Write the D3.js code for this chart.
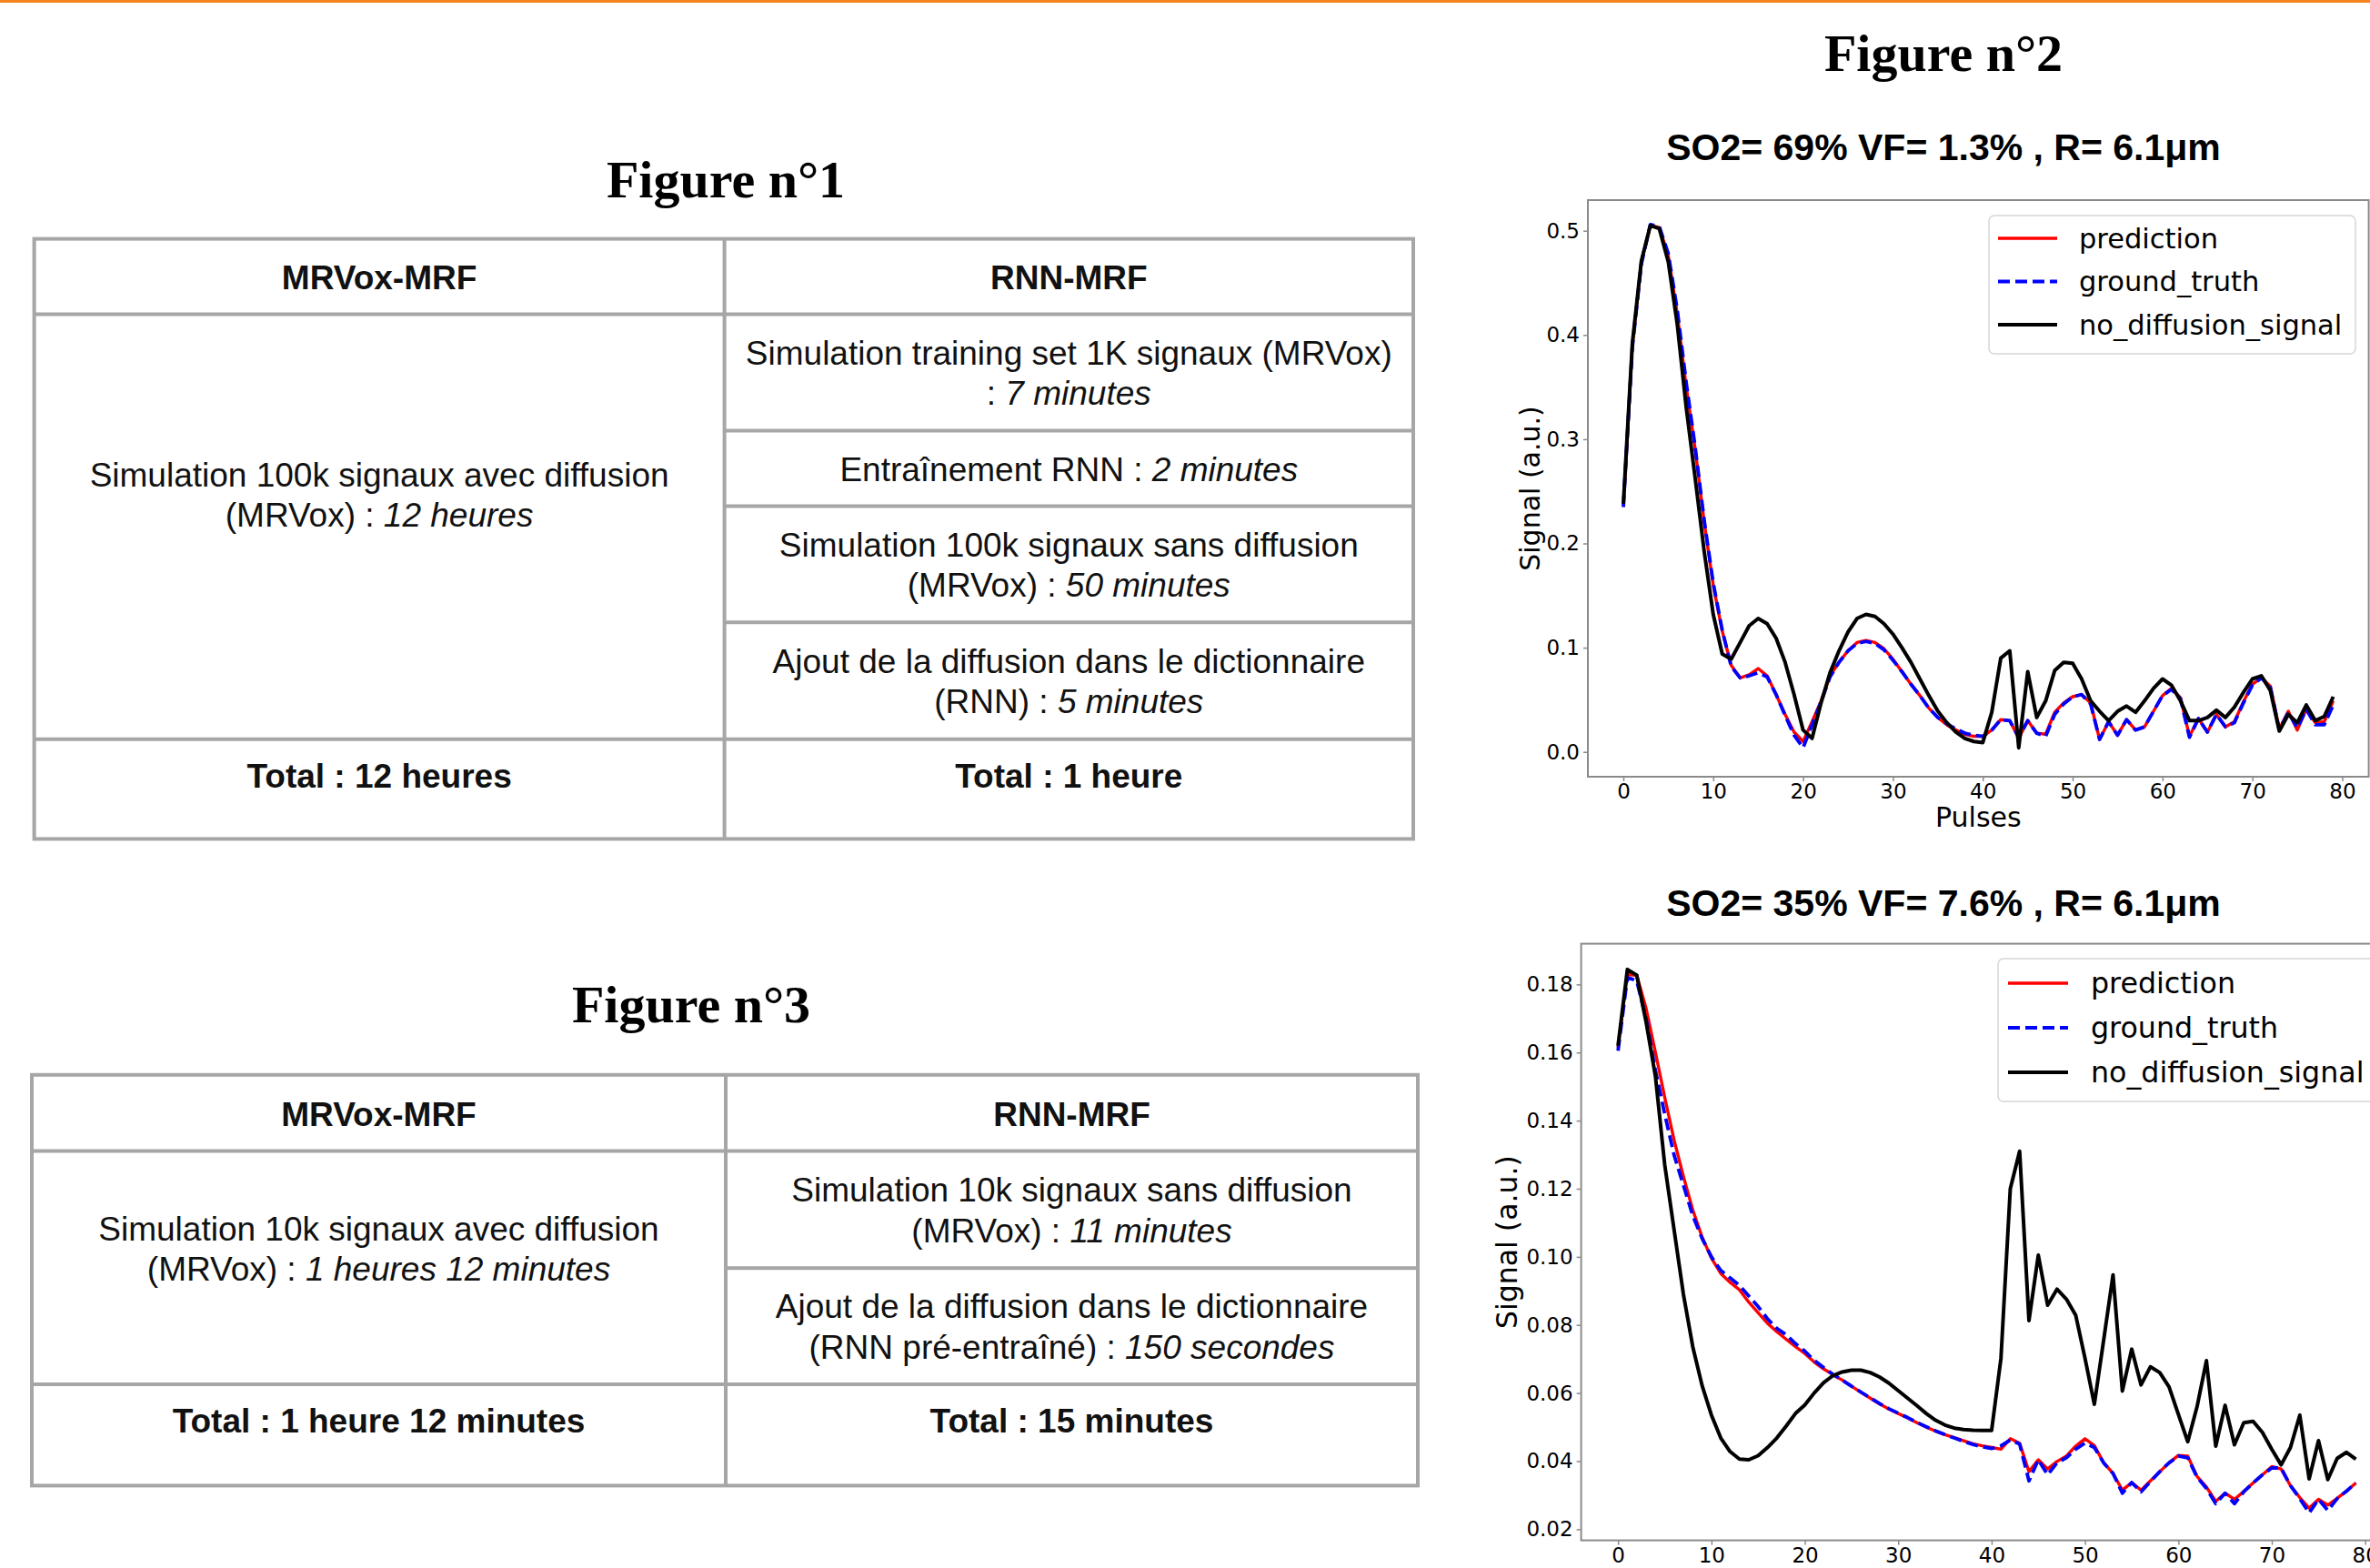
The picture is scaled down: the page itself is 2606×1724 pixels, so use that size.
<!DOCTYPE html>
<html>
<head>
<meta charset="utf-8">
<script src="https://cdn.jsdelivr.net/npm/d3@7"></script>
<style>
  body { margin: 0; background: #fff; overflow: hidden; }
  .tbl text { font-family: "Liberation Sans", Arial, sans-serif; font-size: 37px; fill: #111; }
  .fig-title { font-family: "Liberation Serif", "Times New Roman", serif; font-weight: bold; font-size: 58px; fill: #000; }
  .chart-title { font-family: "Liberation Sans", Arial, sans-serif; font-weight: bold; font-size: 41px; fill: #000; }
  .chart text { font-family: "DejaVu Sans", sans-serif; fill: #000; }
</style>
</head>
<body>
<svg id="page" width="2606" height="1724"></svg>
<script>
// ---------- table data ----------
// each line = [normal text, italic text]
const fig1Header = ["MRVox-MRF", "RNN-MRF"];
const fig1Left = [["Simulation 100k signaux avec diffusion", ""], ["(MRVox) : ", "12 heures"]];
const fig1Right = [
  [["Simulation training set 1K signaux (MRVox)", ""], [": ", "7 minutes"]],
  [["Entraînement RNN : ", "2 minutes"]],
  [["Simulation 100k signaux sans diffusion", ""], ["(MRVox) : ", "50 minutes"]],
  [["Ajout de la diffusion dans le dictionnaire", ""], ["(RNN) : ", "5 minutes"]]
];
const fig1Total = ["Total : 12 heures", "Total : 1 heure"];

const fig3Header = ["MRVox-MRF", "RNN-MRF"];
const fig3Left = [["Simulation 10k signaux avec diffusion", ""], ["(MRVox) : ", "1 heures 12 minutes"]];
const fig3Right = [
  [["Simulation 10k signaux sans diffusion", ""], ["(MRVox) : ", "11 minutes"]],
  [["Ajout de la diffusion dans le dictionnaire", ""], ["(RNN pré-entraîné) : ", "150 secondes"]]
];
const fig3Total = ["Total : 1 heure 12 minutes", "Total : 15 minutes"];

// ---------- chart data ----------
const pulses = d3.range(80);
const seriesNames = ["prediction", "ground_truth", "no_diffusion_signal"];
const xTicks = [0, 10, 20, 30, 40, 50, 60, 70, 80];

// SO2= 69% VF= 1.3%
const topPrediction = [0.235, 0.390, 0.470, 0.505, 0.503, 0.476, 0.420, 0.350, 0.290, 0.220,
  0.160, 0.116, 0.083, 0.071, 0.074, 0.080, 0.073, 0.055, 0.036, 0.019,
  0.010, 0.029, 0.049, 0.073, 0.086, 0.097, 0.105, 0.107, 0.105, 0.099,
  0.089, 0.077, 0.065, 0.054, 0.042, 0.033, 0.026, 0.021, 0.017, 0.015,
  0.015, 0.021, 0.031, 0.030, 0.013, 0.030, 0.018, 0.017, 0.038, 0.047,
  0.053, 0.055, 0.047, 0.012, 0.029, 0.016, 0.031, 0.021, 0.024, 0.039,
  0.054, 0.061, 0.052, 0.015, 0.032, 0.019, 0.036, 0.024, 0.029, 0.048,
  0.065, 0.071, 0.063, 0.022, 0.039, 0.021, 0.041, 0.028, 0.029, 0.049];
const topGroundTruth = [0.235, 0.388, 0.468, 0.506, 0.504, 0.478, 0.424, 0.354, 0.292, 0.222,
  0.162, 0.117, 0.082, 0.071, 0.073, 0.076, 0.072, 0.055, 0.035, 0.016,
  0.004, 0.026, 0.048, 0.072, 0.086, 0.097, 0.104, 0.106, 0.104, 0.098,
  0.088, 0.077, 0.065, 0.054, 0.042, 0.033, 0.027, 0.022, 0.018, 0.016,
  0.015, 0.021, 0.031, 0.030, 0.014, 0.030, 0.018, 0.015, 0.036, 0.046,
  0.053, 0.055, 0.046, 0.012, 0.029, 0.016, 0.031, 0.021, 0.024, 0.039,
  0.054, 0.060, 0.051, 0.014, 0.032, 0.019, 0.036, 0.024, 0.028, 0.047,
  0.064, 0.071, 0.062, 0.021, 0.038, 0.023, 0.041, 0.026, 0.026, 0.045];
const topNoDiffusion = [0.238, 0.392, 0.471, 0.505, 0.502, 0.470, 0.410, 0.330, 0.262, 0.192,
  0.132, 0.094, 0.089, 0.105, 0.121, 0.128, 0.123, 0.109, 0.086, 0.055,
  0.021, 0.013, 0.047, 0.076, 0.097, 0.115, 0.128, 0.132, 0.130, 0.123,
  0.113, 0.100, 0.086, 0.070, 0.054, 0.039, 0.028, 0.019, 0.013, 0.010,
  0.009, 0.038, 0.090, 0.097, 0.004, 0.077, 0.033, 0.049, 0.078, 0.086,
  0.085, 0.070, 0.049, 0.039, 0.030, 0.039, 0.044, 0.038, 0.049, 0.061,
  0.070, 0.064, 0.049, 0.030, 0.030, 0.033, 0.040, 0.033, 0.043, 0.057,
  0.070, 0.073, 0.059, 0.020, 0.036, 0.028, 0.045, 0.030, 0.034, 0.053];
const topYTicks = [0.0, 0.1, 0.2, 0.3, 0.4, 0.5];

// SO2= 35% VF= 7.6%
const botPrediction = [0.1615, 0.1829, 0.1827, 0.1730, 0.1601, 0.1468, 0.1343, 0.1236, 0.1138, 0.1058,
  0.0996, 0.0951, 0.0925, 0.0903, 0.0867, 0.0836, 0.0805, 0.0780, 0.0758, 0.0736,
  0.0716, 0.0691, 0.0671, 0.0654, 0.0638, 0.0620, 0.0602, 0.0585, 0.0568, 0.0553,
  0.0540, 0.0527, 0.0513, 0.0500, 0.0488, 0.0478, 0.0469, 0.0460, 0.0451, 0.0445,
  0.0440, 0.0435, 0.0466, 0.0453, 0.0369, 0.0404, 0.0377, 0.0399, 0.0415, 0.0444,
  0.0466, 0.0446, 0.0395, 0.0364, 0.0315, 0.0337, 0.0315, 0.0342, 0.0369, 0.0395,
  0.0417, 0.0415, 0.0355, 0.0324, 0.0282, 0.0306, 0.0288, 0.0311, 0.0336, 0.0360,
  0.0384, 0.0377, 0.0328, 0.0293, 0.0262, 0.0288, 0.0271, 0.0291, 0.0312, 0.0336];
const botGroundTruth = [0.1605, 0.1820, 0.1811, 0.1700, 0.1548, 0.1419, 0.1299, 0.1210, 0.1121, 0.1054,
  0.1000, 0.0960, 0.0938, 0.0916, 0.0885, 0.0854, 0.0818, 0.0790, 0.0771, 0.0745,
  0.0723, 0.0696, 0.0675, 0.0655, 0.0638, 0.0620, 0.0603, 0.0586, 0.0569, 0.0554,
  0.0541, 0.0528, 0.0514, 0.0501, 0.0489, 0.0478, 0.0468, 0.0458, 0.0449, 0.0442,
  0.0437, 0.0445, 0.0462, 0.0450, 0.0342, 0.0404, 0.0360, 0.0395, 0.0410, 0.0435,
  0.0453, 0.0440, 0.0395, 0.0364, 0.0306, 0.0337, 0.0310, 0.0340, 0.0369, 0.0395,
  0.0415, 0.0410, 0.0353, 0.0320, 0.0275, 0.0306, 0.0275, 0.0310, 0.0336, 0.0360,
  0.0380, 0.0380, 0.0328, 0.0290, 0.0248, 0.0288, 0.0255, 0.0290, 0.0312, 0.0336];
const botNoDiffusion = [0.1620, 0.1844, 0.1827, 0.1690, 0.1531, 0.1270, 0.1080, 0.0890, 0.0736, 0.0622,
  0.0535, 0.0468, 0.0428, 0.0406, 0.0404, 0.0416, 0.0440, 0.0468, 0.0503, 0.0540,
  0.0565, 0.0600, 0.0630, 0.0651, 0.0662, 0.0667, 0.0667, 0.0660, 0.0647, 0.0629,
  0.0607, 0.0585, 0.0563, 0.0540, 0.0520, 0.0506, 0.0497, 0.0493, 0.0491, 0.0490,
  0.0490, 0.0702, 0.1200, 0.1310, 0.0813, 0.1005, 0.0858, 0.0905, 0.0876, 0.0829,
  0.0702, 0.0567, 0.0756, 0.0947, 0.0606, 0.0729, 0.0624, 0.0677, 0.0660, 0.0618,
  0.0537, 0.0457, 0.0560, 0.0695, 0.0444, 0.0564, 0.0448, 0.0513, 0.0517, 0.0484,
  0.0435, 0.0389, 0.0440, 0.0535, 0.0348, 0.0460, 0.0346, 0.0408, 0.0426, 0.0406];
const botYTicks = [0.02, 0.04, 0.06, 0.08, 0.10, 0.12, 0.14, 0.16, 0.18];

const svg = d3.select("#page");

// thin orange rule along the top edge
svg.append("rect").attr("x", 0).attr("y", 0).attr("width", 2606).attr("height", 3).attr("fill", "#f7851f");

// ---------- titles ----------
const figTitles = [
  { text: "Figure n°1", x: 798, y: 217 },
  { text: "Figure n°2", x: 2137, y: 78 },
  { text: "Figure n°3", x: 760, y: 1124 }
];
svg.selectAll(".fig-title").data(figTitles).enter().append("text")
  .attr("class", "fig-title")
  .attr("x", d => d.x).attr("y", d => d.y)
  .attr("text-anchor", "middle")
  .text(d => d.text);

// ---------- tables ----------
const LINE = 44.6;

function writeLine(g, x, y, line, bold) {
  const t = g.append("text").attr("x", x).attr("y", y).attr("text-anchor", "middle")
    .style("font-weight", bold ? "bold" : "normal");
  t.append("tspan").text(line[0]);
  if (line[1]) t.append("tspan").style("font-style", "italic").text(line[1]);
}

function drawTable(box, header, left, right, total) {
  const g = svg.append("g").attr("class", "tbl");
  const cl = (box.x0 + box.xMid) / 2, cr = (box.xMid + box.x1) / 2;

  // grid lines
  const stroke = "#a6a6a6", sw = 4;
  g.append("rect").attr("x", box.x0).attr("y", box.yTop)
    .attr("width", box.x1 - box.x0).attr("height", box.yBottom - box.yTop)
    .attr("fill", "none").attr("stroke", stroke).attr("stroke-width", sw);
  g.append("line").attr("x1", box.xMid).attr("x2", box.xMid).attr("y1", box.yTop).attr("y2", box.yBottom)
    .attr("stroke", stroke).attr("stroke-width", sw);
  [box.yHead, box.yTotal].forEach(y => {
    g.append("line").attr("x1", box.x0).attr("x2", box.x1).attr("y1", y).attr("y2", y)
      .attr("stroke", stroke).attr("stroke-width", sw);
  });
  box.yRows.forEach(y => {
    g.append("line").attr("x1", box.xMid).attr("x2", box.x1).attr("y1", y).attr("y2", y)
      .attr("stroke", stroke).attr("stroke-width", sw);
  });

  // header
  const hy = (box.yTop + box.yHead) / 2 + 14;
  writeLine(g, cl, hy, [header[0], ""], true);
  writeLine(g, cr, hy, [header[1], ""], true);

  // left body
  left.forEach((line, i) => writeLine(g, cl, box.leftBaseline + i * LINE, line, false));

  // right rows, each centred in its cell
  const edges = [box.yHead].concat(box.yRows, [box.yTotal]);
  right.forEach((lines, r) => {
    const mid = (edges[r] + edges[r + 1]) / 2;
    const first = mid + 13.5 - (lines.length - 1) * LINE / 2;
    lines.forEach((line, i) => writeLine(g, cr, first + i * LINE, line, false));
  });

  // totals
  writeLine(g, cl, box.yTotal + 53, [total[0], ""], true);
  writeLine(g, cr, box.yTotal + 53, [total[1], ""], true);
}

drawTable({ x0: 37.6, xMid: 796.6, x1: 1554, yTop: 262.6, yHead: 345.4, yRows: [473.5, 556.6, 684.2],
  yTotal: 812.8, yBottom: 922.4, leftBaseline: 534.5 }, fig1Header, fig1Left, fig1Right, fig1Total);
drawTable({ x0: 35, xMid: 798, x1: 1559, yTop: 1181.8, yHead: 1265.6, yRows: [1394.3],
  yTotal: 1522.1, yBottom: 1633.4, leftBaseline: 1363.7 }, fig3Header, fig3Left, fig3Right, fig3Total);

// ---------- line charts ----------
const styles = [
  { color: "#ff0000", width: 3.4, dash: null },
  { color: "#0000ff", width: 3.8, dash: "13,6" },
  { color: "#000000", width: 4, dash: null }
];

function drawChart(cfg, id) {
  const g = svg.append("g").attr("class", "chart");
  const f = cfg.frame;

  const x = d3.scaleLinear().domain([-3.95, 82.95]).range([f.left, f.right]);
  const y = d3.scaleLinear().domain(cfg.yDomain).range([f.bottom, f.top]);

  svg.append("text").attr("class", "chart-title")
    .attr("x", 2137).attr("y", cfg.titleY).attr("text-anchor", "middle")
    .text(cfg.title);

  g.append("clipPath").attr("id", id).append("rect")
    .attr("x", f.left).attr("y", f.top).attr("width", f.right - f.left).attr("height", f.bottom - f.top);

  const line = d3.line().x((d, i) => x(pulses[i])).y(d => y(d));
  cfg.series.forEach((s, k) => {
    g.append("path").datum(s)
      .attr("clip-path", `url(#${id})`)
      .attr("d", line)
      .attr("fill", "none")
      .attr("stroke", styles[k].color)
      .attr("stroke-width", styles[k].width)
      .attr("stroke-dasharray", styles[k].dash)
      .attr("stroke-linejoin", "round");
  });

  // axes
  const xAxis = g.append("g").attr("transform", `translate(0,${f.bottom})`)
    .call(d3.axisBottom(x).tickValues(xTicks).tickSize(5).tickPadding(3).tickFormat(d3.format("d")));
  const yAxis = g.append("g").attr("transform", `translate(${f.left},0)`)
    .call(d3.axisLeft(y).tickValues(cfg.yTicks).tickSize(5).tickPadding(4).tickFormat(d3.format(cfg.yFormat)));
  [xAxis, yAxis].forEach(a => {
    a.select(".domain").remove();
    a.selectAll("line").attr("stroke", "#8a8a8a").attr("stroke-width", 1.5);
    a.selectAll("text").style("font-family", "DejaVu Sans, sans-serif").style("font-size", "23px").attr("fill", "#000");
  });

  // frame
  g.append("rect").attr("x", f.left).attr("y", f.top)
    .attr("width", f.right - f.left).attr("height", f.bottom - f.top)
    .attr("fill", "none").attr("stroke", "#8a8a8a").attr("stroke-width", 2);

  // axis labels
  if (cfg.xLabel) {
    g.append("text").attr("x", (f.left + f.right) / 2).attr("y", f.bottom + 55)
      .attr("text-anchor", "middle").style("font-size", cfg.labelSize + "px").text(cfg.xLabel);
  }
  g.append("text")
    .attr("transform", `translate(${cfg.yLabelX},${(f.top + f.bottom) / 2}) rotate(-90)`)
    .attr("text-anchor", "middle").style("font-size", cfg.labelSize + "px")
    .text("Signal (a.u.)");

  // legend
  const L = cfg.legend;
  const lg = g.append("g");
  lg.append("rect").attr("x", L.x).attr("y", L.y).attr("width", L.w).attr("height", L.h)
    .attr("rx", 6).attr("fill", "#fff").attr("fill-opacity", 0.85)
    .attr("stroke", "#d6d6d6").attr("stroke-width", 1.5);
  seriesNames.forEach((name, k) => {
    const ry = L.y + L.first + k * L.step;
    lg.append("line").attr("x1", L.x + L.pad).attr("x2", L.x + L.pad + L.handle)
      .attr("y1", ry).attr("y2", ry)
      .attr("stroke", styles[k].color).attr("stroke-width", styles[k].width)
      .attr("stroke-dasharray", styles[k].dash);
    lg.append("text").attr("x", L.x + L.textOff).attr("y", ry).attr("dy", "0.36em")
      .style("font-size", L.font + "px").text(name);
  });
}

drawChart({
  title: "SO2= 69% VF= 1.3% , R= 6.1μm", titleY: 176,
  frame: { left: 1746, right: 2604.6, top: 220, bottom: 854 },
  yDomain: [-0.0238, 0.5294], yTicks: topYTicks, yFormat: ".1f",
  series: [topPrediction, topGroundTruth, topNoDiffusion],
  xLabel: "Pulses", labelSize: 30, yLabelX: 1693,
  legend: { x: 2187, y: 237, w: 403, h: 152, pad: 10, handle: 65, textOff: 99, first: 25, step: 47.5, font: 30.5 }
}, "clipTop");

drawChart({
  title: "SO2= 35% VF= 7.6% , R= 6.1μm", titleY: 1007,
  frame: { left: 1738.6, right: 2631, top: 1037.6, bottom: 1693.6 },
  yDomain: [0.01674, 0.19195], yTicks: botYTicks, yFormat: ".2f",
  series: [botPrediction, botGroundTruth, botNoDiffusion],
  xLabel: null, labelSize: 31.5, yLabelX: 1668,
  legend: { x: 2197, y: 1054, w: 421, h: 157, pad: 11, handle: 66, textOff: 102, first: 27, step: 49, font: 31.7 }
}, "clipBot");
</script>
</body>
</html>
